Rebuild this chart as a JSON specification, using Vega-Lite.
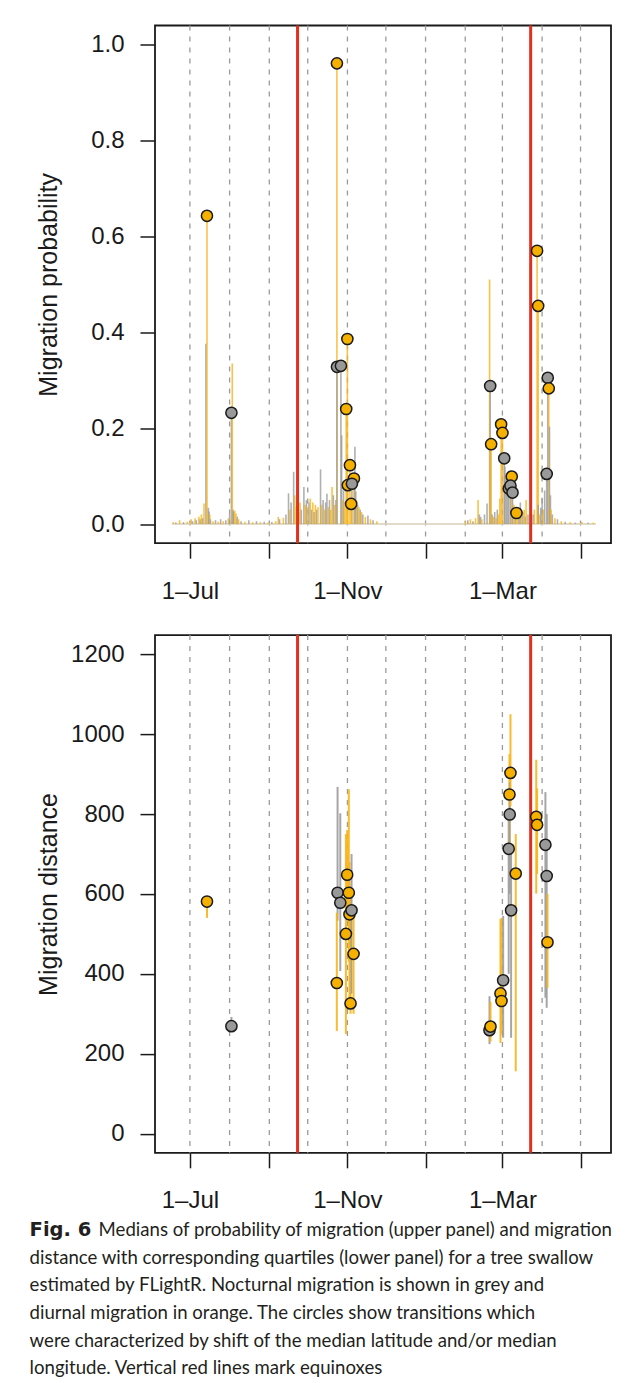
{
  "$schema": "https://vega.github.io/schema/vega-lite/v6.json",
  "padding": {"left": 29, "top": 22.5, "right": 0, "bottom": 0},
  "background": "white",
  "bounds": "flush",
  "spacing": 91.6,
  "config": {
    "font": "Liberation Sans",
    "view": {"stroke": "#1a1a1a", "strokeWidth": 1.8},
    "axis": {"grid": false, "domain": false, "tickColor": "#1a1a1a", "tickWidth": 1.5, "tickSize": 15, "labelFontSize": 24, "labelColor": "#1a1a1a", "titleFontSize": 25, "titleFontWeight": "normal", "titleColor": "#1a1a1a", "labelFlush": false, "labelOverlap": false}
  },
  "datasets": {
    "months": [
      {"t": "2011-07-01"}, {"t": "2011-08-01"}, {"t": "2011-09-01"}, {"t": "2011-10-01"}, {"t": "2011-11-01"}, {"t": "2011-12-01"},
      {"t": "2012-01-01"}, {"t": "2012-02-01"}, {"t": "2012-03-01"}, {"t": "2012-04-01"}, {"t": "2012-05-01"}
    ],
    "equinox": [{"t": "2011-09-23T01:30Z"}, {"t": "2012-03-23T01:30Z"}],
    "base": [{"t": "2011-06-17", "e": "2012-05-13"}],
    "spikes": [
      {"t": "2011-06-18", "p": 0.004, "k": "o"}, {"t": "2011-06-20", "p": 0.003, "k": "g"}, {"t": "2011-06-23", "p": 0.008, "k": "o"}, {"t": "2011-06-26", "p": 0.004, "k": "g"}, {"t": "2011-06-29", "p": 0.005, "k": "o"},
      {"t": "2011-07-02", "p": 0.01, "k": "o"}, {"t": "2011-07-03", "p": 0.006, "k": "g"}, {"t": "2011-07-05", "p": 0.012, "k": "o"}, {"t": "2011-07-06", "p": 0.008, "k": "g"}, {"t": "2011-07-08", "p": 0.015, "k": "o"}, {"t": "2011-07-09", "p": 0.01, "k": "g"}, {"t": "2011-07-10", "p": 0.02, "k": "o"}, {"t": "2011-07-11", "p": 0.012, "k": "g"}, {"t": "2011-07-12", "p": 0.043, "k": "o"},
      {"t": "2011-07-13T12:00Z", "p": 0.376, "k": "g"}, {"t": "2011-07-14T08:00Z", "p": 0.643, "k": "o"}, {"t": "2011-07-15T10:00Z", "p": 0.034, "k": "g"}, {"t": "2011-07-16", "p": 0.026, "k": "g"}, {"t": "2011-07-16T12:00Z", "p": 0.02, "k": "o"}, {"t": "2011-07-17", "p": 0.01, "k": "g"},
      {"t": "2011-07-19", "p": 0.006, "k": "o"}, {"t": "2011-07-21", "p": 0.008, "k": "g"}, {"t": "2011-07-23", "p": 0.005, "k": "o"}, {"t": "2011-07-25", "p": 0.01, "k": "g"}, {"t": "2011-07-27", "p": 0.006, "k": "o"}, {"t": "2011-07-29", "p": 0.008, "k": "g"}, {"t": "2011-07-31", "p": 0.012, "k": "o"},
      {"t": "2011-08-01", "p": 0.02, "k": "g"}, {"t": "2011-08-02T10:00Z", "p": 0.232, "k": "g"}, {"t": "2011-08-03T02:00Z", "p": 0.335, "k": "o"}, {"t": "2011-08-03T18:00Z", "p": 0.03, "k": "g"}, {"t": "2011-08-04", "p": 0.025, "k": "g"}, {"t": "2011-08-05", "p": 0.028, "k": "o"}, {"t": "2011-08-06", "p": 0.022, "k": "o"}, {"t": "2011-08-07", "p": 0.015, "k": "g"}, {"t": "2011-08-08", "p": 0.01, "k": "o"},
      {"t": "2011-08-10", "p": 0.006, "k": "g"}, {"t": "2011-08-13", "p": 0.005, "k": "o"}, {"t": "2011-08-16", "p": 0.008, "k": "g"}, {"t": "2011-08-19", "p": 0.004, "k": "o"}, {"t": "2011-08-22", "p": 0.006, "k": "g"}, {"t": "2011-08-25", "p": 0.004, "k": "o"}, {"t": "2011-08-28", "p": 0.005, "k": "g"}, {"t": "2011-08-31", "p": 0.003, "k": "o"},
      {"t": "2011-09-03", "p": 0.004, "k": "g"}, {"t": "2011-09-06", "p": 0.006, "k": "o"}, {"t": "2011-09-08", "p": 0.015, "k": "o"}, {"t": "2011-09-09", "p": 0.01, "k": "g"},
      {"t": "2011-09-12", "p": 0.013, "k": "o"}, {"t": "2011-09-14", "p": 0.02, "k": "g"}, {"t": "2011-09-16", "p": 0.064, "k": "g"}, {"t": "2011-09-17", "p": 0.03, "k": "o"}, {"t": "2011-09-18", "p": 0.045, "k": "g"}, {"t": "2011-09-20", "p": 0.109, "k": "g"}, {"t": "2011-09-20T18:00Z", "p": 0.06, "k": "o"}, {"t": "2011-09-22", "p": 0.036, "k": "o"}, {"t": "2011-09-24", "p": 0.025, "k": "g"}, {"t": "2011-09-25", "p": 0.045, "k": "o"}, {"t": "2011-09-26", "p": 0.03, "k": "g"}, {"t": "2011-09-28", "p": 0.077, "k": "g"}, {"t": "2011-09-29", "p": 0.04, "k": "o"}, {"t": "2011-09-30", "p": 0.05, "k": "g"},
      {"t": "2011-10-01", "p": 0.035, "k": "o"}, {"t": "2011-10-02", "p": 0.045, "k": "g"}, {"t": "2011-10-03", "p": 0.053, "k": "o"}, {"t": "2011-10-04", "p": 0.03, "k": "g"}, {"t": "2011-10-05", "p": 0.045, "k": "o"}, {"t": "2011-10-06", "p": 0.025, "k": "g"}, {"t": "2011-10-07", "p": 0.04, "k": "o"}, {"t": "2011-10-08", "p": 0.03, "k": "g"}, {"t": "2011-10-09", "p": 0.035, "k": "o"}, {"t": "2011-10-11", "p": 0.114, "k": "g"}, {"t": "2011-10-12", "p": 0.04, "k": "o"}, {"t": "2011-10-13", "p": 0.05, "k": "g"}, {"t": "2011-10-14", "p": 0.03, "k": "o"}, {"t": "2011-10-15", "p": 0.045, "k": "g"}, {"t": "2011-10-16", "p": 0.063, "k": "g"}, {"t": "2011-10-17", "p": 0.035, "k": "o"}, {"t": "2011-10-18", "p": 0.05, "k": "g"}, {"t": "2011-10-19", "p": 0.03, "k": "o"}, {"t": "2011-10-20", "p": 0.077, "k": "o"}, {"t": "2011-10-21", "p": 0.06, "k": "g"}, {"t": "2011-10-22", "p": 0.04, "k": "o"}, {"t": "2011-10-23", "p": 0.05, "k": "g"},
      {"t": "2011-10-23T19:00Z", "p": 0.961, "k": "o"}, {"t": "2011-10-23T20:00Z", "p": 0.328, "k": "g"}, {"t": "2011-10-26T22:00Z", "p": 0.33, "k": "g"}, {"t": "2011-10-27T12:00Z", "p": 0.185, "k": "g"}, {"t": "2011-10-28", "p": 0.05, "k": "o"}, {"t": "2011-10-29", "p": 0.07, "k": "g"}, {"t": "2011-10-30", "p": 0.045, "k": "o"},
      {"t": "2011-10-31T01:00Z", "p": 0.24, "k": "o"}, {"t": "2011-10-31T23:00Z", "p": 0.386, "k": "o"}, {"t": "2011-11-01T07:00Z", "p": 0.081, "k": "o"}, {"t": "2011-11-02T23:00Z", "p": 0.1227, "k": "o"}, {"t": "2011-11-04T12:00Z", "p": 0.084, "k": "g"}, {"t": "2011-11-03T22:00Z", "p": 0.042, "k": "o"}, {"t": "2011-11-06T02:00Z", "p": 0.095, "k": "o"}, {"t": "2011-11-06T20:00Z", "p": 0.161, "k": "g"}, {"t": "2011-11-07T12:00Z", "p": 0.068, "k": "g"}, {"t": "2011-11-08", "p": 0.05, "k": "o"}, {"t": "2011-11-09", "p": 0.04, "k": "g"}, {"t": "2011-11-10", "p": 0.035, "k": "o"}, {"t": "2011-11-11", "p": 0.03, "k": "g"}, {"t": "2011-11-12", "p": 0.025, "k": "o"}, {"t": "2011-11-13", "p": 0.02, "k": "g"}, {"t": "2011-11-15", "p": 0.015, "k": "o"}, {"t": "2011-11-17", "p": 0.018, "k": "g"}, {"t": "2011-11-19", "p": 0.01, "k": "o"}, {"t": "2011-11-21", "p": 0.008, "k": "g"}, {"t": "2011-11-24", "p": 0.006, "k": "o"},
      {"t": "2012-02-01", "p": 0.006, "k": "o"}, {"t": "2012-02-03", "p": 0.008, "k": "g"}, {"t": "2012-02-05", "p": 0.01, "k": "o"}, {"t": "2012-02-07", "p": 0.006, "k": "g"}, {"t": "2012-02-09", "p": 0.012, "k": "o"}, {"t": "2012-02-11", "p": 0.05, "k": "o"}, {"t": "2012-02-12", "p": 0.02, "k": "g"}, {"t": "2012-02-13", "p": 0.015, "k": "g"}, {"t": "2012-02-14", "p": 0.01, "k": "o"}, {"t": "2012-02-16", "p": 0.02, "k": "g"}, {"t": "2012-02-18", "p": 0.043, "k": "g"},
      {"t": "2012-02-20T00:00Z", "p": 0.51, "k": "o"}, {"t": "2012-02-20T11:00Z", "p": 0.288, "k": "g"}, {"t": "2012-02-21T05:00Z", "p": 0.1665, "k": "o"}, {"t": "2012-02-22", "p": 0.02, "k": "g"}, {"t": "2012-02-23", "p": 0.015, "k": "o"}, {"t": "2012-02-24", "p": 0.025, "k": "g"}, {"t": "2012-02-25", "p": 0.012, "k": "o"}, {"t": "2012-02-26", "p": 0.03, "k": "g"}, {"t": "2012-02-27", "p": 0.02, "k": "o"}, {"t": "2012-02-28", "p": 0.053, "k": "o"},
      {"t": "2012-02-29T00:00Z", "p": 0.208, "k": "o"}, {"t": "2012-03-01T01:00Z", "p": 0.19, "k": "o"}, {"t": "2012-03-02T10:00Z", "p": 0.137, "k": "g"}, {"t": "2012-03-03", "p": 0.12, "k": "g"}, {"t": "2012-03-04", "p": 0.1, "k": "g"}, {"t": "2012-03-05", "p": 0.09, "k": "g"}, {"t": "2012-03-06", "p": 0.08, "k": "g"}, {"t": "2012-03-07T07:00Z", "p": 0.085, "k": "g"}, {"t": "2012-03-08T07:00Z", "p": 0.099, "k": "o"}, {"t": "2012-03-08T22:00Z", "p": 0.066, "k": "g"}, {"t": "2012-03-10", "p": 0.04, "k": "o"}, {"t": "2012-03-11", "p": 0.03, "k": "g"}, {"t": "2012-03-11T23:00Z", "p": 0.023, "k": "o"},
      {"t": "2012-03-13", "p": 0.035, "k": "o"}, {"t": "2012-03-14", "p": 0.03, "k": "g"}, {"t": "2012-03-15", "p": 0.045, "k": "g"}, {"t": "2012-03-16", "p": 0.02, "k": "o"}, {"t": "2012-03-17", "p": 0.025, "k": "g"}, {"t": "2012-03-18", "p": 0.03, "k": "o"}, {"t": "2012-03-19", "p": 0.015, "k": "g"}, {"t": "2012-03-19T12:00Z", "p": 0.05, "k": "o"}, {"t": "2012-03-21", "p": 0.02, "k": "g"}, {"t": "2012-03-23", "p": 0.015, "k": "o"}, {"t": "2012-03-25", "p": 0.02, "k": "g"}, {"t": "2012-03-26", "p": 0.03, "k": "o"},
      {"t": "2012-03-28T02:00Z", "p": 0.57, "k": "o"}, {"t": "2012-03-28T22:00Z", "p": 0.455, "k": "o"}, {"t": "2012-03-29", "p": 0.04, "k": "g"}, {"t": "2012-03-30", "p": 0.02, "k": "o"}, {"t": "2012-03-31", "p": 0.034, "k": "g"}, {"t": "2012-04-01", "p": 0.055, "k": "g"}, {"t": "2012-04-02", "p": 0.03, "k": "o"}, {"t": "2012-04-03", "p": 0.07, "k": "g"},
      {"t": "2012-04-04T14:00Z", "p": 0.1045, "k": "g"}, {"t": "2012-04-05T10:00Z", "p": 0.305, "k": "g"}, {"t": "2012-04-06T05:00Z", "p": 0.283, "k": "o"}, {"t": "2012-04-06T18:00Z", "p": 0.203, "k": "g"}, {"t": "2012-04-07T12:00Z", "p": 0.06, "k": "g"}, {"t": "2012-04-08", "p": 0.03, "k": "o"}, {"t": "2012-04-09", "p": 0.02, "k": "g"}, {"t": "2012-04-11", "p": 0.012, "k": "o"}, {"t": "2012-04-13", "p": 0.01, "k": "g"}, {"t": "2012-04-16", "p": 0.006, "k": "o"}, {"t": "2012-04-19", "p": 0.005, "k": "g"}, {"t": "2012-04-23", "p": 0.004, "k": "o"}, {"t": "2012-04-27", "p": 0.003, "k": "g"}, {"t": "2012-05-02", "p": 0.004, "k": "o"}, {"t": "2012-05-07", "p": 0.003, "k": "g"}, {"t": "2012-05-11", "p": 0.003, "k": "o"}
    ],
    "circles": [
      {"t": "2011-07-14T08:00Z", "p": 0.643, "k": "o"}, {"t": "2011-08-02T10:00Z", "p": 0.232, "k": "g"},
      {"t": "2011-10-23T19:00Z", "p": 0.961, "k": "o"}, {"t": "2011-10-23T20:00Z", "p": 0.328, "k": "g"}, {"t": "2011-10-26T22:00Z", "p": 0.33, "k": "g"},
      {"t": "2011-10-31T01:00Z", "p": 0.24, "k": "o"}, {"t": "2011-10-31T23:00Z", "p": 0.386, "k": "o"}, {"t": "2011-11-02T23:00Z", "p": 0.1227, "k": "o"}, {"t": "2011-11-06T02:00Z", "p": 0.095, "k": "o"}, {"t": "2011-11-01T07:00Z", "p": 0.081, "k": "o"}, {"t": "2011-11-04T12:00Z", "p": 0.084, "k": "g"}, {"t": "2011-11-03T22:00Z", "p": 0.042, "k": "o"},
      {"t": "2012-02-20T11:00Z", "p": 0.288, "k": "g"}, {"t": "2012-02-21T05:00Z", "p": 0.1665, "k": "o"}, {"t": "2012-02-29T00:00Z", "p": 0.208, "k": "o"}, {"t": "2012-03-01T01:00Z", "p": 0.19, "k": "o"}, {"t": "2012-03-02T10:00Z", "p": 0.137, "k": "g"},
      {"t": "2012-03-08T07:00Z", "p": 0.099, "k": "o"}, {"t": "2012-03-06T00:00Z", "p": 0.074, "k": "g"}, {"t": "2012-03-07T07:00Z", "p": 0.08, "k": "g"}, {"t": "2012-03-08T22:00Z", "p": 0.0656, "k": "g"}, {"t": "2012-03-11T23:00Z", "p": 0.023, "k": "o"},
      {"t": "2012-03-28T02:00Z", "p": 0.57, "k": "o"}, {"t": "2012-03-28T22:00Z", "p": 0.455, "k": "o"}, {"t": "2012-04-05T10:00Z", "p": 0.305, "k": "g"}, {"t": "2012-04-06T05:00Z", "p": 0.283, "k": "o"}, {"t": "2012-04-04T14:00Z", "p": 0.1045, "k": "g"}
    ],
    "dist": [
      {"t": "2011-07-14T08:00Z", "m": 581, "lo": 540, "hi": 592, "k": "o"},
      {"t": "2011-08-02T10:00Z", "m": 269, "lo": 255, "hi": 292, "k": "g"},
      {"t": "2011-10-24T07:00Z", "m": 603, "lo": 533, "hi": 868, "k": "g"},
      {"t": "2011-10-26T10:00Z", "m": 578, "lo": 407, "hi": 802, "k": "g"},
      {"t": "2011-10-23T17:00Z", "m": 377, "lo": 257, "hi": 553, "k": "o"},
      {"t": "2011-10-30T19:00Z", "m": 500, "lo": 249, "hi": 750, "k": "o"},
      {"t": "2011-10-31T19:00Z", "m": 648, "lo": 560, "hi": 760, "k": "o"},
      {"t": "2011-11-02T02:00Z", "m": 603, "lo": 430, "hi": 862, "k": "o"},
      {"t": "2011-11-02T14:00Z", "m": 549, "lo": 340, "hi": 680, "k": "o"},
      {"t": "2011-11-03T10:00Z", "m": 326, "lo": 300, "hi": 620, "k": "o"},
      {"t": "2011-11-04T05:00Z", "m": 559, "lo": 350, "hi": 700, "k": "g"},
      {"t": "2011-11-05T19:00Z", "m": 450, "lo": 300, "hi": 560, "k": "o"},
      {"t": "2012-02-19T22:00Z", "m": 259, "lo": 224, "hi": 344, "k": "g"},
      {"t": "2012-02-20T17:00Z", "m": 268, "lo": 230, "hi": 330, "k": "o"},
      {"t": "2012-02-28T12:00Z", "m": 351, "lo": 227, "hi": 537, "k": "o"},
      {"t": "2012-02-29T07:00Z", "m": 332, "lo": 250, "hi": 540, "k": "o"},
      {"t": "2012-03-01T14:00Z", "m": 384, "lo": 240, "hi": 545, "k": "g"},
      {"t": "2012-03-05T22:00Z", "m": 713, "lo": 400, "hi": 800, "k": "g"},
      {"t": "2012-03-06T12:00Z", "m": 849, "lo": 700, "hi": 950, "k": "o"},
      {"t": "2012-03-06T17:00Z", "m": 799, "lo": 600, "hi": 880, "k": "g"},
      {"t": "2012-03-07T07:00Z", "m": 903, "lo": 820, "hi": 1050, "k": "o"},
      {"t": "2012-03-07T19:00Z", "m": 559, "lo": 240, "hi": 700, "k": "g"},
      {"t": "2012-03-11T10:00Z", "m": 651, "lo": 156, "hi": 750, "k": "o"},
      {"t": "2012-03-27T10:00Z", "m": 793, "lo": 601, "hi": 936, "k": "o"},
      {"t": "2012-03-28T02:00Z", "m": 773, "lo": 650, "hi": 864, "k": "o"},
      {"t": "2012-04-03T14:00Z", "m": 723, "lo": 340, "hi": 855, "k": "g"},
      {"t": "2012-04-04T14:00Z", "m": 645, "lo": 315, "hi": 800, "k": "g"},
      {"t": "2012-04-05T05:00Z", "m": 479, "lo": 365, "hi": 600, "k": "o"}
    ],
    "caption": [
      {"line": 1, "text": "Medians of probability of migration (upper panel) and migration"},
      {"line": 2, "text": "distance with corresponding quartiles (lower panel) for a tree swallow"},
      {"line": 3, "text": "estimated by FLightR. Nocturnal migration is shown in grey and"},
      {"line": 4, "text": "diurnal migration in orange. The circles show transitions which"},
      {"line": 5, "text": "were characterized by shift of the median latitude and/or median"},
      {"line": 6, "text": "longitude. Vertical red lines mark equinoxes"}
    ],
    "figlabel": [{"line": 1, "text": "Fig. 6"}]
  },
  "vconcat": [
    {
      "width": 456,
      "height": 517.7,
      "encoding": {
        "x": {
          "field": "t", "type": "temporal", "title": null,
          "scale": {"type": "utc", "domain": [{"year": 2011, "month": 6, "date": 3, "hours": 18, "utc": true}, {"year": 2012, "month": 5, "date": 24, "hours": 19, "utc": true}]},
          "axis": {
            "values": [{"year": 2011, "month": 7, "date": 1, "utc": true}, {"year": 2011, "month": 9, "date": 1, "utc": true}, {"year": 2011, "month": 11, "date": 1, "utc": true}, {"year": 2012, "month": 1, "date": 1, "utc": true}, {"year": 2012, "month": 3, "date": 1, "utc": true}, {"year": 2012, "month": 5, "date": 1, "utc": true}],
            "labelExpr": "(utcmonth(datum.value) == 6 || utcmonth(datum.value) == 10 || utcmonth(datum.value) == 2) ? utcFormat(datum.value, '%-d–%b') : ''",
            "labelPadding": 21
          }
        }
      },
      "layer": [
        {
          "data": {"name": "months"},
          "mark": {"type": "rule", "color": "#9a9a9a", "strokeWidth": 1.3, "strokeDash": [5, 6]},
          "encoding": {}
        },
        {
          "data": {"name": "base"},
          "mark": {"type": "rule", "color": "#d8cfb8", "strokeWidth": 1.5},
          "encoding": {
            "x2": {"field": "e"},
            "y": {"datum": 0, "type": "quantitative", "scale": {"domain": [-0.04, 1.04], "nice": false, "zero": false}}
          }
        },
        {
          "data": {"name": "spikes"},
          "mark": {"type": "rule", "strokeWidth": 1.6, "opacity": 0.8},
          "encoding": {
            "y": {"field": "p", "type": "quantitative", "scale": {"domain": [-0.04, 1.04], "nice": false, "zero": false},
              "axis": {"values": [0, 0.2, 0.4, 0.6, 0.8, 1.0], "format": ".1f", "title": "Migration probability", "titleX": -98.4, "titleBaseline": "alphabetic", "labelPadding": 16}},
            "y2": {"datum": 0},
            "color": {"field": "k", "type": "nominal", "scale": {"domain": ["g", "o"], "range": ["#9c9c9c", "#f9b418"]}, "legend": null}
          }
        },
        {
          "data": {"name": "equinox"},
          "mark": {"type": "rule", "color": "#e0301e", "strokeWidth": 3},
          "encoding": {}
        },
        {
          "data": {"name": "circles"},
          "mark": {"type": "point", "shape": "circle", "filled": true, "size": 125, "stroke": "#1a1a1a", "strokeWidth": 1.5, "opacity": 1},
          "encoding": {
            "y": {"field": "p", "type": "quantitative", "scale": {"domain": [-0.04, 1.04], "nice": false, "zero": false}},
            "fill": {"field": "k", "type": "nominal", "scale": {"domain": ["g", "o"], "range": ["#999999", "#f5b000"]}, "legend": null}
          }
        }
      ]
    },
    {
      "width": 456,
      "height": 517.7,
      "encoding": {
        "x": {
          "field": "t", "type": "temporal", "title": null,
          "scale": {"type": "utc", "domain": [{"year": 2011, "month": 6, "date": 3, "hours": 18, "utc": true}, {"year": 2012, "month": 5, "date": 24, "hours": 19, "utc": true}]},
          "axis": {
            "values": [{"year": 2011, "month": 7, "date": 1, "utc": true}, {"year": 2011, "month": 9, "date": 1, "utc": true}, {"year": 2011, "month": 11, "date": 1, "utc": true}, {"year": 2012, "month": 1, "date": 1, "utc": true}, {"year": 2012, "month": 3, "date": 1, "utc": true}, {"year": 2012, "month": 5, "date": 1, "utc": true}],
            "labelExpr": "(utcmonth(datum.value) == 6 || utcmonth(datum.value) == 10 || utcmonth(datum.value) == 2) ? utcFormat(datum.value, '%-d–%b') : ''",
            "labelPadding": 20.5
          }
        }
      },
      "layer": [
        {
          "data": {"name": "months"},
          "mark": {"type": "rule", "color": "#9a9a9a", "strokeWidth": 1.3, "strokeDash": [5, 6]},
          "encoding": {}
        },
        {
          "data": {"name": "equinox"},
          "mark": {"type": "rule", "color": "#e0301e", "strokeWidth": 3},
          "encoding": {}
        },
        {
          "data": {"name": "dist"},
          "mark": {"type": "rule", "strokeWidth": 2, "opacity": 0.9},
          "encoding": {
            "y": {"field": "lo", "type": "quantitative", "scale": {"domain": [-48, 1248], "nice": false, "zero": false},
              "axis": {"values": [0, 200, 400, 600, 800, 1000, 1200], "format": "d", "title": "Migration distance", "titleX": -98.4, "titleBaseline": "alphabetic", "labelPadding": 16}},
            "y2": {"field": "hi"},
            "color": {"field": "k", "type": "nominal", "scale": {"domain": ["g", "o"], "range": ["#9c9c9c", "#f9b000"]}, "legend": null}
          }
        },
        {
          "data": {"name": "dist"},
          "mark": {"type": "point", "shape": "circle", "filled": true, "size": 125, "stroke": "#1a1a1a", "strokeWidth": 1.5, "opacity": 1},
          "encoding": {
            "y": {"field": "m", "type": "quantitative", "scale": {"domain": [-48, 1248], "nice": false, "zero": false}},
            "fill": {"field": "k", "type": "nominal", "scale": {"domain": ["g", "o"], "range": ["#999999", "#f5b000"]}, "legend": null}
          }
        }
      ]
    },
    {
      "width": 456,
      "height": 138.3,
      "view": {"stroke": null},
      "encoding": {
        "x": {"value": -125.4},
        "y": {"field": "line", "type": "ordinal", "scale": {"type": "point", "domain": [1, 2, 3, 4, 5, 6], "range": [0, 138.3], "padding": 0}, "axis": null}
      },
      "layer": [
        {
          "data": {"name": "figlabel"},
          "mark": {"type": "text", "align": "left", "baseline": "alphabetic", "dy": -8.6, "font": "DejaVu Sans", "fontSize": 19.5, "fontWeight": "bold", "color": "#231f20"},
          "encoding": {"text": {"field": "text"}}
        },
        {
          "data": {"name": "caption"},
          "transform": [{"filter": "datum.line == 1"}],
          "mark": {"type": "text", "align": "left", "baseline": "alphabetic", "dy": -8.6, "dx": 69, "font": "Lato", "fontSize": 18.6, "color": "#231f20"},
          "encoding": {"text": {"field": "text"}}
        },
        {
          "data": {"name": "caption"},
          "transform": [{"filter": "datum.line > 1"}],
          "mark": {"type": "text", "align": "left", "baseline": "alphabetic", "dy": -8.6, "font": "Lato", "fontSize": 18.6, "color": "#231f20"},
          "encoding": {"text": {"field": "text"}}
        }
      ]
    }
  ]
}
